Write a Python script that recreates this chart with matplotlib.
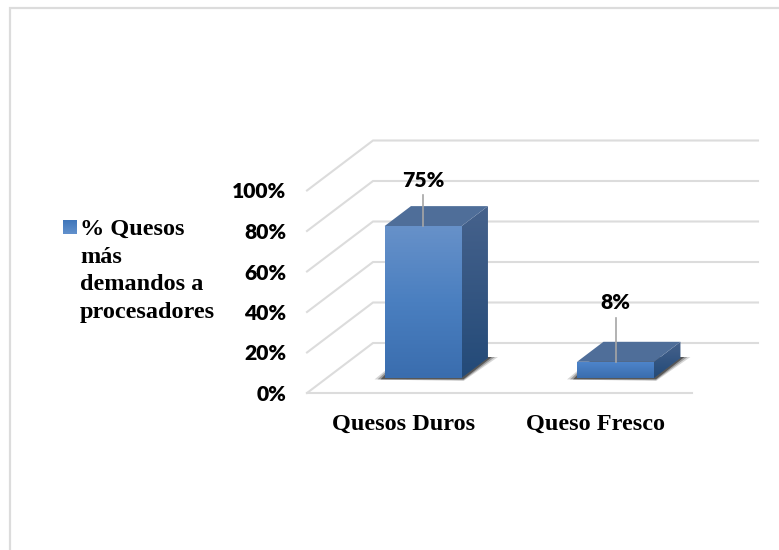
import numpy as np
import matplotlib
matplotlib.use("Agg")
import matplotlib.pyplot as plt
from matplotlib.colors import LinearSegmentedColormap
from matplotlib.patches import Polygon

categories = ["Quesos Duros", "Queso Fresco"]
values = [75, 8]
value_labels = ["75%", "8%"]
y_ticks = [0, 20, 40, 60, 80, 100]
y_tick_labels = ["0%", "20%", "40%", "60%", "80%", "100%"]
legend_label = "% Quesos\nmás\ndemandos a\nprocesadores"

W, H = 779, 550
fig = plt.figure(figsize=(W / 100, H / 100), dpi=100, facecolor="white")

# Axes cover the front plane of the floor: 0-2 categories, 0-100 percent
ax_l, ax_r, ax_top, ax_bot = 307, 692, 190.5, 393
ax = fig.add_axes([ax_l / W, 1 - ax_bot / H, (ax_r - ax_l) / W, (ax_bot - ax_top) / H])
ax.set_xlim(0, 2)
ax.set_ylim(0, 100)
ax.patch.set_alpha(0)
for s in ax.spines.values():
    s.set_visible(False)

# Oblique projection: a full unit of depth shifts by these data amounts
PX_X = (ax_r - ax_l) / 2
PX_Y = (ax_bot - ax_top) / 100
DX = 66 / PX_X
DY = 50 / PX_Y
BAR_W = 0.4
D0, D1 = 0.3, 0.7
GRID = "#DCDCDC"
LEADER_PX = (31, 44)
LABEL_GAP_PX = 15
LABEL_FONT = dict(family="Lato", weight=800, fontsize=15.2)
SERIF_FONT = dict(family="Liberation Serif", weight="bold", fontsize=17.5)


def proj(x, y, d):
    return (x + d * DX, y + d * DY)


def gradient_face(target, pts, colours, zorder=3):
    cmap = LinearSegmentedColormap.from_list("face", colours)
    xs, ys = zip(*pts)
    poly = Polygon(pts, closed=True, transform=target.transData, fc="none", ec="none")
    target.add_patch(poly)
    im = target.imshow(np.linspace(0, 1, 256)[:, None], cmap=cmap, aspect="auto",
                       extent=(min(xs), max(xs), min(ys), max(ys)), origin="upper",
                       zorder=zorder, interpolation="bilinear")
    im.set_clip_path(poly)


# Side wall and back wall gridlines
for t in y_ticks:
    x0, y0 = proj(0, t, 0)
    x1, y1 = proj(0, t, 1)
    x2, y2 = proj(2, t, 1)
    ax.plot([x0, x1, x2], [y0, y1, y2], color=GRID, lw=1.5, clip_on=False, zorder=1,
            solid_joinstyle="miter")
ax.plot([0, 2], [0, 0], color=GRID, lw=1.5, clip_on=False, zorder=1)

for i, (v, lab) in enumerate(zip(values, value_labels)):
    xl = i + 0.5 - BAR_W / 2
    xr = i + 0.5 + BAR_W / 2
    fl, fb = proj(xl, 0, D0)
    fr, _ = proj(xr, 0, D0)
    _, ft = proj(xl, v, D0)
    br, bb = proj(xr, 0, D1)
    bl, _ = proj(xl, 0, D1)
    _, bt = proj(xl, v, D1)

    # Soft floor shadow, layered so its outer edge fades out
    for grow, a in [(1.0, 0.18), (0.7, 0.30), (0.4, 0.55)]:
        ax.add_patch(Polygon(
            [(fl - grow * 10 / PX_X, fb - 1.4 / PX_Y),
             (fr + 2 / PX_X, fb - grow * 3 / PX_Y),
             (br + grow * 10 / PX_X, bb + 1 / PX_Y),
             (fl + 17 / PX_X, bb + 1 / PX_Y)],
            closed=True, fc="#1E1E1E", ec="none", alpha=a, clip_on=False, zorder=2))

    # Right face, top face, front face
    gradient_face(ax, [(fr, fb), (br, bb), (br, bt), (fr, ft)],
                  ["#46628C", "#234A78"], zorder=3)
    ax.add_patch(Polygon([(fl, ft), (fr, ft), (br, bt), (bl, bt)], closed=True,
                         fc="#4F6E99", ec="none", clip_on=False, zorder=3))
    front = ["#6791C9", "#4A7FC0", "#3A6DAE"] if v > 30 else ["#4F86CC", "#3A6DAE"]
    gradient_face(ax, [(fl, fb), (fr, fb), (fr, ft), (fl, ft)], front, zorder=4)

    # Leader line and value label
    xc = (fl + fr) / 2
    ax.plot([xc, xc], [ft, ft + LEADER_PX[i] / PX_Y], color="#A6A6A6", lw=1.2,
            clip_on=False, zorder=5)
    ax.text(xc, ft + (LEADER_PX[i] + LABEL_GAP_PX) / PX_Y, lab, color="black", ha="center",
            va="center", clip_on=False, zorder=6, **LABEL_FONT)

ax.set_xlim(0, 2)
ax.set_ylim(0, 100)

ax.set_xticks([0.5, 1.5], categories, **SERIF_FONT)
ax.set_yticks(y_ticks, y_tick_labels, **LABEL_FONT)
ax.tick_params(length=0, axis="both")
ax.tick_params(axis="x", pad=15)
ax.tick_params(axis="y", pad=15)

# Legend swatch and wrapped label, placed in a full-figure pixel overlay
overlay = fig.add_axes([0, 0, 1, 1], zorder=-1)
overlay.set_xlim(0, W)
overlay.set_ylim(H, 0)
overlay.axis("off")
gradient_face(overlay, [(63, 220), (77, 220), (77, 234), (63, 234)], ["#6291CD", "#3F76BA"])
overlay.set_xlim(0, W)
overlay.set_ylim(H, 0)
overlay.text(80, 219, legend_label, va="top", ha="left", linespacing=1.42, color="black",
             **SERIF_FONT)

# Outer frame, open on the right and bottom
overlay.plot([10, 10, W], [H, 8, 8], color=GRID, lw=1.6, solid_joinstyle="miter")

fig.savefig("out.png", dpi=100)
